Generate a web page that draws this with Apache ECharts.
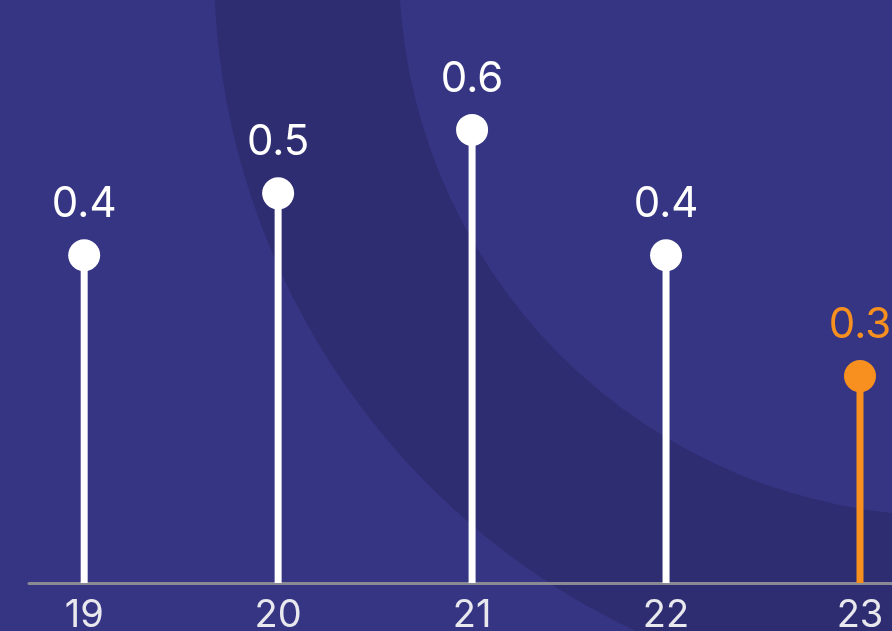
<!DOCTYPE html>
<html><head><meta charset="utf-8">
<script src="https://cdn.jsdelivr.net/npm/echarts@6/dist/echarts.min.js"></script>
<style>html,body{margin:0;padding:0;background:#363583}#c{width:892px;height:631px}</style>
</head><body><div id="c"></div>
<script>
// Data
const categories = ['19', '20', '21', '22', '23'];
const values = [0.434, 0.516, 0.6, 0.434, 0.274];
const highlightIndex = 4;

const WHITE = '#ffffff';
const ORANGE = '#f7901e';
const FONT = 'Inter';

const chart = echarts.init(document.getElementById('c'), null, {renderer: 'canvas'});
const pts = values.map((v, i) => [i, v]);
const colorOf = i => (i === highlightIndex ? ORANGE : WHITE);

chart.setOption({
  backgroundColor: '#363583',
  animation: false,
  graphic: [{
    type: 'ring', silent: true, z: -10,
    shape: {cx: 949, cy: -34, r: 735, r0: 550},
    style: {fill: '#2e2d71'}
  }],
  grid: {left: 29, right: 0, top: 0, bottom: 48, containLabel: false, outerBoundsMode: 'none'},
  xAxis: {
    type: 'value', min: -0.2845, max: 4.165,
    splitLine: {show: false},
    axisTick: {show: false},
    axisLine: {show: true, onZero: false, lineStyle: {color: '#8a8a95', width: 3}},
    axisLabel: {
      customValues: categories.map((_, i) => i),
      formatter: v => categories[Math.round(v)],
      color: '#e8e8ee', fontSize: 38, margin: 14, fontFamily: FONT
    }
  },
  yAxis: {type: 'value', min: 0, max: 0.772, show: false},
  series: [
    {
      type: 'bar', barWidth: 7, z: 2,
      data: pts.map((p, i) => ({value: p, itemStyle: {color: colorOf(i)}}))
    },
    {
      type: 'scatter', symbol: 'circle', symbolSize: 32, z: 3,
      itemStyle: {opacity: 1},
      data: pts.map((p, i) => ({
        value: p,
        itemStyle: {color: colorOf(i), opacity: 1},
        label: {color: colorOf(i)}
      })),
      label: {
        show: true, position: 'top', distance: 14,
        fontSize: 42, fontFamily: FONT, opacity: 1,
        formatter: p => p.value[1].toFixed(1)
      }
    }
  ]
});
</script>
</body></html>
